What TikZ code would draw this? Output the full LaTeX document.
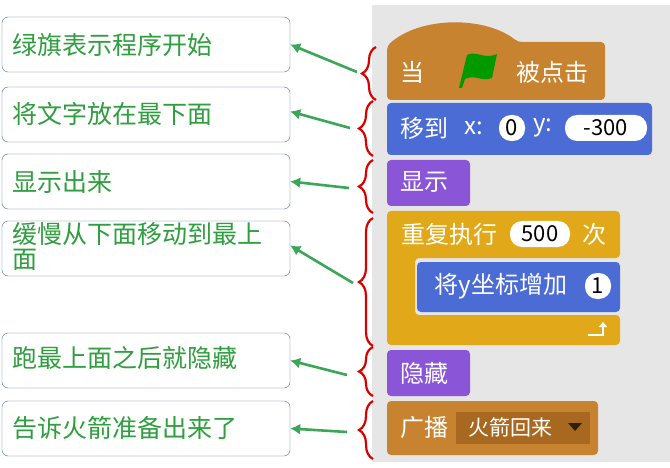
\documentclass[tikz,border=0pt]{standalone}
\usepackage{fontspec}
\setmainfont{Noto Sans CJK SC}
\usetikzlibrary{decorations.pathreplacing,arrows.meta}
\definecolor{panel}{HTML}{E6E6E6}
\definecolor{evt}{HTML}{C88330}
\definecolor{mot}{HTML}{4A6CD4}
\definecolor{looks}{HTML}{8A55D7}
\definecolor{ctl}{HTML}{E1A91A}
\definecolor{boxline}{HTML}{4F6E9A}
\definecolor{gtxt}{HTML}{2E9E3E}
\definecolor{garr}{HTML}{3AA656}
\definecolor{fieldc}{HTML}{A8681F}
\tikzset{
 note/.style={draw=boxline,rounded corners=6pt,minimum width=288pt,minimum height=55pt,inner sep=0pt},
 notetxt/.style={text=gtxt,font=\fontsize{25}{28}\selectfont,anchor=west,align=left,inner sep=0pt},
 blk/.style={rounded corners=4pt},
 btxt/.style={text=white,font=\fontsize{24}{26}\selectfont},
 oval/.style={fill=white,rounded corners=12pt,inner sep=0pt,minimum height=26pt,font=\fontsize{22}{24}\selectfont},
 brc/.style={draw=red!85!black,line width=2.2pt,decorate,decoration={brace,amplitude=14pt}},
 arr/.style={draw=garr,line width=2.6pt,-{Latex[length=10pt,width=11pt]}}
}
\begin{document}
\begin{tikzpicture}[x=1pt,y=-1pt]
\useasboundingbox (0,0) rectangle (670,468);
\fill[white] (0,0) rectangle (670,468);
\fill[panel] (372,5) rectangle (670,462);
% notes
\node[note] (n1) at (146,44.5) {}; \node[notetxt] (t1) at (12,45) {绿旗表示程序开始};
\node[note] (n2) at (146,114.5) {}; \node[notetxt] (t2) at (12,114) {将文字放在最下面};
\node[note] (n3) at (146,181.5) {}; \node[notetxt] (t3) at (12,182) {显示出来};
\node[note] (n4) at (146,248.5) {}; \node[notetxt,anchor=north west] (t4) at (12,222) {缓慢从下面移动到最上\\[-3pt]面};
\node[note] (n5) at (146,360.5) {}; \node[notetxt] (t5) at (12,358) {跑最上面之后就隐藏};
\node[note] (n6) at (146,428.5) {}; \node[notetxt] (t6) at (12,428) {告诉火箭准备出来了};
% hat block
\fill[evt,rounded corners=4pt] (387,100) -- (387,46) .. controls (420,16) and (485,16) .. (518,42) -- (605,42) -- (605,100) -- cycle;
\node[btxt] (h1) at (412,72) {当};
\fill[green!50!black!80!green] (459,88) -- (467,55) .. controls (476,50) and (484,60) .. (497,54) -- (492,78) .. controls (481,82) and (475,74) .. (465,79) -- (462,88) -- cycle;
\node[btxt] (h2) at (552,72) {被点击};
% motion
\fill[mot,blk] (387,103) rectangle (652,155);
\node[btxt] (m1) at (424,128) {移到};
\node[btxt] (m2) at (474,128) {x:};
\node[oval,minimum width=26pt] (m3) at (512,128) {0};
\node[btxt] (m4) at (543,128) {y:};
\node[oval,minimum width=82pt] (m5) at (606,128) {-300};
% show
\fill[looks,blk] (387,160) rectangle (470,206);
\node[btxt] (s1) at (424,182) {显示};
% repeat
\fill[ctl,rounded corners=4pt] (387,211) -- (620,211) -- (620,258) -- (415,258) -- (415,315) -- (620,315) -- (620,345) -- (387,345) -- cycle;
\node[btxt] (r1) at (449,234) {重复执行};
\node[oval,minimum width=60pt] (r2) at (540,234) {500};
\node[btxt] (r3) at (594,234) {次};
\fill[mot,blk] (417,262) rectangle (620,312);
\node[btxt] (i1) at (501,286) {将y坐标增加};
\node[oval,minimum width=26pt] (i2) at (598,286) {1};
\draw[white,line width=2.5pt,-{Triangle[length=5pt,width=8pt]}] (588,335) -- (603,335) -- (603,322);
% hide
\fill[looks,blk] (387,350) rectangle (470,396);
\node[btxt] (hd) at (424,373) {隐藏};
% broadcast
\fill[evt,blk] (387,401) rectangle (598,455);
\node[btxt] (b1) at (424,427) {广播};
\fill[fieldc] (456,412) rectangle (590,444);
\node[text=white,font=\fontsize{21}{24}\selectfont] (b2) at (510,427) {火箭回来};
\fill[black!70!fieldc] (568,423) -- (582,423) -- (575,431) -- cycle;
% braces
\draw[brc] (376,100) -- (376,47);
\draw[brc] (373,156) -- (373,101);
\draw[brc] (373,213) -- (373,160);
\draw[brc] (373,346) -- (373,218);
\draw[brc] (373,396) -- (373,347);
\draw[brc] (373,459) -- (373,401);
% arrows
\coordinate (a1) at (357,72); \coordinate (a2) at (350,128); \coordinate (a3) at (349,188);
\coordinate (a4) at (353,283); \coordinate (a5) at (347,375); \coordinate (a6) at (347,432);
\draw[arr] (a1) -- (n1.east);
\draw[arr] (a2) -- ([yshift=3pt]n2.east);
\draw[arr] (a3) -- (n3.east);
\draw[arr] (a4) -- ([yshift=3pt]n4.east);
\draw[arr] (a5) -- (n5.east);
\draw[arr] (a6) -- (n6.east);
\end{tikzpicture}
\end{document}
